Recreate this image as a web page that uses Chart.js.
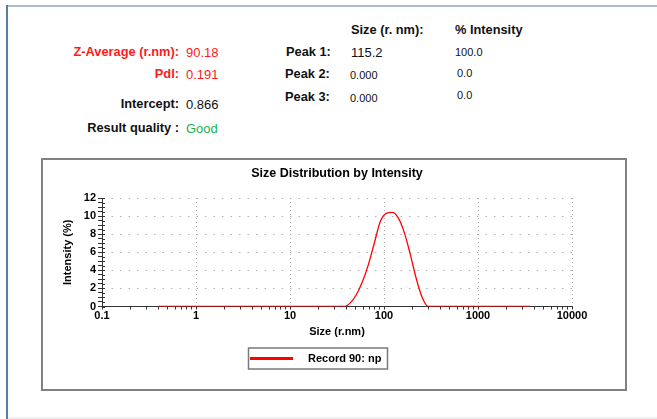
<!DOCTYPE html>
<html>
<head>
<meta charset="utf-8">
<script src="https://cdn.jsdelivr.net/npm/chart.js@4.4.0/dist/chart.umd.min.js"></script>
<style>
html, body { margin: 0; padding: 0; background: #fff; }
body { width: 657px; height: 419px; position: relative; overflow: hidden; font-family: Arial, "Liberation Sans", sans-serif; color: #111; }
.frameTop { position: absolute; left: 6px; top: 5px; right: 0; height: 2px; background: #a9bfd1; }
.frameLeft { position: absolute; left: 6px; top: 5px; width: 2px; bottom: 0; background: #55809f; }
.floor { position: absolute; left: 8px; right: 0; top: 417px; height: 2px; background: #eeeeee; }
.t { position: absolute; white-space: nowrap; transform: translateY(-50%); line-height: 1; }
.b { font-weight: bold; font-size: 12.8px; }
.v { font-size: 13px; }
.s { font-size: 11px; }
.r { right: 478px; text-align: right; }
.red { color: #ff1a1a; }
.green { color: #22b24c; }
#box { position: absolute; left: 41px; top: 158px; width: 586px; height: 233px; box-sizing: border-box; border: 2px solid #808080; }
#box canvas { display: block; }
</style>
</head>
<body>
<div class="frameTop"></div>
<div class="frameLeft"></div>
<div class="floor"></div>

<div class="t b" style="left:351px;top:29.5px">Size (r. nm):</div>
<div class="t b" style="left:455px;top:29.5px">% Intensity</div>

<div class="t b r red" style="top:51.5px">Z-Average (r.nm):</div>
<div class="t v red" style="left:186px;top:51.5px">90.18</div>
<div class="t b r red" style="top:73.5px">PdI:</div>
<div class="t v red" style="left:186px;top:73.5px">0.191</div>
<div class="t b r" style="top:103.5px">Intercept:</div>
<div class="t v" style="left:186px;top:103.5px">0.866</div>
<div class="t b r" style="top:127.5px">Result quality :</div>
<div class="t v green" style="left:186px;top:127.5px">Good</div>

<div class="t b" style="left:286px;top:51.5px">Peak 1:</div>
<div class="t v" style="left:351px;top:51.5px">115.2</div>
<div class="t s" style="left:455px;top:52px">100.0</div>
<div class="t b" style="left:285px;top:73.5px">Peak 2:</div>
<div class="t s" style="left:350px;top:74.5px">0.000</div>
<div class="t s" style="left:457px;top:72.5px">0.0</div>
<div class="t b" style="left:285px;top:97px">Peak 3:</div>
<div class="t s" style="left:350px;top:97.5px">0.000</div>
<div class="t s" style="left:457px;top:94.5px">0.0</div>

<div id="box"><canvas id="sizeChart" width="582" height="229"></canvas></div>

<script>
// size bins (r.nm) and intensity (%)
const sizes = [0.4, 0.4632, 0.5365, 0.6213, 0.7195, 0.8332, 0.9649, 1.117, 1.294, 1.499,
  1.736, 2.01, 2.328, 2.696, 3.122, 3.615, 4.187, 4.849, 5.615, 6.503,
  7.531, 8.721, 10.1, 11.7, 13.54, 15.69, 18.17, 21.04, 24.36, 28.21,
  32.67, 37.84, 43.82, 50.75, 58.77, 68.06, 78.82, 91.28, 105.7, 122.4,
  141.8, 164.2, 190.1, 220.2, 255.0, 295.3, 342.0, 396.1, 458.7, 531.2,
  615.1, 712.4, 825.0, 955.4, 1106, 1281, 1484, 1718, 1990, 2305,
  2669, 3091, 3580];
const intensity = [0, 0, 0, 0, 0, 0, 0, 0, 0, 0,
  0, 0, 0, 0, 0, 0, 0, 0, 0, 0,
  0, 0, 0, 0, 0, 0, 0, 0, 0, 0,
  0, 0, 0.4, 1.3, 2.7, 4.6, 7.0, 9.4, 10.3, 10.4,
  9.8, 8.2, 5.8, 3.1, 1.0, 0, 0, 0, 0, 0,
  0, 0, 0, 0, 0, 0, 0, 0, 0, 0,
  0, 0, 0];
const seriesLabel = 'Record 90: np';

// axes
const decades = [0.1, 1, 10, 100, 1000, 10000];
const xTickLabels = ['0.1', '1', '10', '100', '1000', '10000'];
const minorSteps = [2, 3, 4, 5, 6, 7, 8, 9];
const yLabelValues = [0, 2, 4, 6, 8, 10, 12];
const yMinorStep = 0.5;

const FONT = 'Arial, "Liberation Sans", sans-serif';
const isDecade = v => decades.some(d => Math.abs(d - v) < 1e-9);

// y ticks also poke into the plot, like the instrument software
const innerTicks = {
    id: 'innerTicks',
    afterDraw(chart) {
        const y = chart.scales.y;
        const ctx = chart.ctx;
        ctx.save();
        ctx.strokeStyle = '#333';
        ctx.lineWidth = 1;
        ctx.beginPath();
        y.ticks.forEach(t => {
            const py = Math.round(y.getPixelForValue(t.value)) + 0.5;
            ctx.moveTo(y.right, py);
            ctx.lineTo(y.right + 3, py);
        });
        ctx.stroke();
        ctx.restore();
    }
};

// framed legend under the plot
const legendBox = {
    id: 'legendBox',
    afterDraw(chart) {
        const ds = chart.data.datasets[0];
        const ctx = chart.ctx;
        ctx.save();
        ctx.strokeStyle = '#7a7a7a';
        ctx.lineWidth = 1.5;
        ctx.strokeRect(205.5, 188, 139, 21);
        ctx.strokeStyle = ds.borderColor;
        ctx.lineWidth = 3;
        ctx.beginPath();
        ctx.moveTo(207, 198.5);
        ctx.lineTo(250, 198.5);
        ctx.stroke();
        ctx.fillStyle = '#000';
        ctx.font = 'bold 11px ' + FONT;
        ctx.textBaseline = 'middle';
        ctx.fillText(ds.label, 265, 199);
        ctx.restore();
    }
};

new Chart(document.getElementById('sizeChart'), {
    type: 'scatter',
    data: {
        datasets: [{
            label: seriesLabel,
            data: sizes.map((s, i) => ({ x: s, y: intensity[i] })),
            showLine: true,
            borderColor: '#ff0000',
            backgroundColor: '#ff0000',
            borderWidth: 1.3,
            pointRadius: 0,
            cubicInterpolationMode: 'monotone'
        }]
    },
    options: {
        responsive: false,
        animation: false,
        layout: { padding: { top: 0, right: 53, bottom: 48, left: 0 } },
        plugins: {
            legend: { display: false },
            tooltip: { enabled: false },
            title: {
                display: true,
                fullSize: false,
                text: 'Size Distribution by Intensity',
                color: '#000',
                font: { family: FONT, size: 12.5, weight: 'bold' },
                padding: { top: 6, bottom: 17 }
            }
        },
        scales: {
            x: {
                type: 'logarithmic',
                min: 0.1,
                max: 10000,
                afterBuildTicks: s => {
                    const vals = [];
                    decades.forEach((d, i) => {
                        vals.push(d);
                        if (i < decades.length - 1) minorSteps.forEach(m => vals.push(d * m));
                    });
                    s.ticks = vals.map(v => ({ value: v }));
                },
                afterFit: s => { s.height = 34.5; },
                ticks: {
                    autoSkip: false,
                    maxRotation: 0,
                    padding: 0,
                    color: '#000',
                    font: { family: FONT, size: 11, weight: 'bold' },
                    callback: v => {
                        const i = decades.findIndex(d => Math.abs(d - v) < 1e-9);
                        return i >= 0 ? xTickLabels[i] : '';
                    }
                },
                grid: {
                    color: c => (c.tick && isDecade(c.tick.value) && c.tick.value > 0.1) ? '#b0b0b0' : 'rgba(0,0,0,0)',
                    lineWidth: 1,
                    tickColor: '#333',
                    tickLength: 3
                },
                border: { display: true, color: '#333', width: 1, dash: [1, 3] },
                title: {
                    display: true,
                    text: 'Size (r.nm)',
                    color: '#000',
                    font: { family: FONT, size: 11, weight: 'bold' },
                    padding: { top: 0, bottom: 2.7 }
                }
            },
            y: {
                min: 0,
                max: 12,
                afterBuildTicks: s => {
                    const vals = [];
                    for (let v = 0; v <= 12 + 1e-9; v += yMinorStep) vals.push(v);
                    s.ticks = vals.map(v => ({ value: v }));
                },
                afterFit: s => { s.width = 59; },
                ticks: {
                    autoSkip: false,
                    padding: 2,
                    color: '#000',
                    font: { family: FONT, size: 11, weight: 'bold' },
                    callback: v => yLabelValues.includes(v) ? String(v) : ''
                },
                grid: {
                    color: c => (c.tick && c.tick.value > 0 && yLabelValues.includes(c.tick.value)) ? '#b0b0b0' : 'rgba(0,0,0,0)',
                    lineWidth: 1,
                    tickColor: '#333',
                    tickLength: 4
                },
                border: { display: true, color: '#333', width: 1, dash: [1.5, 7] },
                title: {
                    display: true,
                    text: 'Intensity (%)',
                    color: '#000',
                    font: { family: FONT, size: 11, weight: 'bold' },
                    padding: { top: 18.4, bottom: 0 }
                }
            }
        }
    },
    plugins: [innerTicks, legendBox]
});
</script>
</body>
</html>
